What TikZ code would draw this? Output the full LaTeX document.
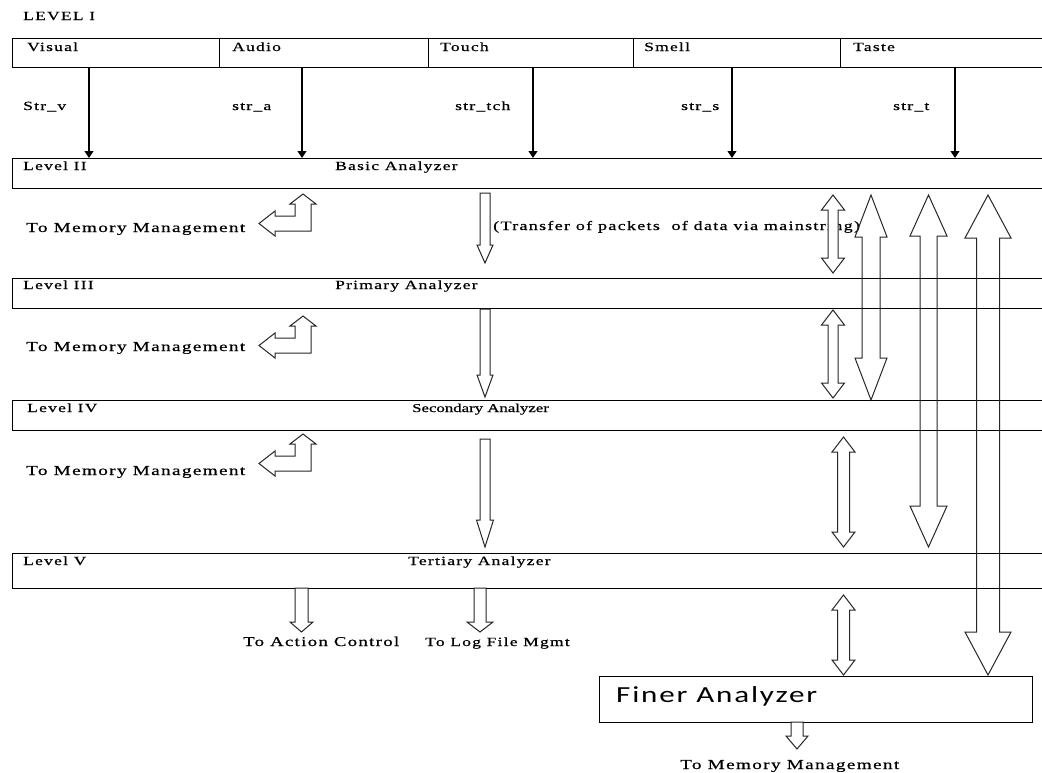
\documentclass[tikz,border=0pt]{standalone}
\usepackage{fontspec}
\setmainfont{Liberation Serif}[FakeStretch=1.4,LetterSpace=10,FakeBold=0.6]
\newfontfamily\calib{Carlito}[FakeStretch=1.35,LetterSpace=8]
\usetikzlibrary{arrows.meta}
\tikzset{
  box/.style={draw, line width=1.1pt, rectangle, inner sep=0pt, anchor=north west},
  txt/.style={anchor=base west, inner sep=0pt, font=\fontsize{12.5}{14}\selectfont},
  memtxt/.style={txt, font=\fontsize{13.7}{15}\selectfont},
  sense/.style={line width=1.1pt, -{Triangle[length=7pt,width=9pt]}},
  blk/.style={draw=black!85, line width=1pt, fill=white},
  blko/.style={draw=black!85, line width=1pt},
}
% down block arrow: [style]{cx}{ytop}{ytip}{shaft half}{head half}{head length}
\newcommand\DnArr[7][blk]{%
  \draw[#1] ({#2-#5},#3) -- ({#2+#5},#3) -- ({#2+#5},{#4-#7}) -- ({#2+#6},{#4-#7})
    -- (#2,#4) -- ({#2-#6},{#4-#7}) -- ({#2-#5},{#4-#7}) -- cycle;}
% vertical double block arrow: [style]{cx}{ytop}{ybot}{shaft half}{head half}{head length}
\newcommand\DblArr[7][blk]{%
  \draw[#1] (#2,#3) -- ({#2+#6},{#3+#7}) -- ({#2+#5},{#3+#7}) -- ({#2+#5},{#4-#7})
    -- ({#2+#6},{#4-#7}) -- (#2,#4) -- ({#2-#6},{#4-#7}) -- ({#2-#5},{#4-#7})
    -- ({#2-#5},{#3+#7}) -- ({#2-#6},{#3+#7}) -- cycle;}
% left-up bent arrow, shifted down by #1
\newcommand\BentArr[1]{%
  \begin{scope}[shift={(0,#1)}]
  \draw[blk] (303,194) -- (316,204) -- (311,204) -- (311,231) -- (275,231) -- (275,236)
    -- (259,223.5) -- (275,211) -- (275,216) -- (295,216) -- (295,204) -- (290,204) -- cycle;
  \end{scope}}
\begin{document}
\begin{tikzpicture}[x=1pt,y=-1pt]
\useasboundingbox[fill=white] (0,0) rectangle (1042,772);

% ---- Level I
\node[txt] (lvl1) at (23,20) {LEVEL I};
\node[box, minimum width=207pt, minimum height=29pt] (vis) at (12,38) {};
\node[box, minimum width=209pt, minimum height=29pt] (aud) at (219,38) {};
\node[box, minimum width=205pt, minimum height=29pt] (tch) at (428,38) {};
\node[box, minimum width=207pt, minimum height=29pt] (sml) at (633,38) {};
\node[box, minimum width=212pt, minimum height=29pt] (tst) at (840,38) {};
\node[txt] (tvis) at (27,51) {Visual};
\node[txt] (taud) at (232,51) {Audio};
\node[txt] (ttch) at (440,51) {Touch};
\node[txt] (tsml) at (644,51) {Smell};
\node[txt] (ttst) at (853,51) {Taste};

% ---- levels
\node[box, minimum width=1040pt, minimum height=30pt] (l2) at (12,158) {};
\node[box, minimum width=1040pt, minimum height=30pt] (l3) at (12,278) {};
\node[box, minimum width=1040pt, minimum height=30pt] (l4) at (12,400) {};
\node[box, minimum width=1040pt, minimum height=35pt] (l5) at (12,553) {};
\node[box, minimum width=433pt, minimum height=46pt] (fin) at (599,676) {};

\node[txt] (tl2) at (23,170) {Level II};
\node[txt] (tb2) at (335,170) {Basic Analyzer};
\node[txt] (tl3) at (23,289) {Level III};
\node[txt] (tb3) at (335,289) {Primary Analyzer};
\node[txt] (tl4) at (27,412) {Level IV};
\node[txt, font=\fontsize{12}{14}\selectfont\addfontfeature{LetterSpace=0}] (tb4) at (412,412) {Secondary Analyzer};
\node[txt] (tl5) at (23,565) {Level V};
\node[txt] (tb5) at (408,565) {Tertiary Analyzer};
\node[anchor=base west, inner sep=0pt, font=\calib\fontsize{23}{26}\selectfont] (tfin) at (616,702) {Finer Analyzer};

% ---- stream labels and arrows
\node[txt] (sv) at (23,110) {Str\_v};
\node[txt] (sa) at (232,110) {str\_a};
\node[txt] (st) at (455,110) {str\_tch};
\node[txt] (ss) at (681,110) {str\_s};
\node[txt] (stt) at (893,110) {str\_t};
\coordinate (xv) at (89,0);
\coordinate (xa) at (302,0);
\coordinate (xt) at (533,0);
\coordinate (xs) at (732,0);
\coordinate (xtt) at (955,0);
\draw[sense] (vis.south -| xv) -- (l2.north -| xv);
\draw[sense] (aud.south -| xa) -- (l2.north -| xa);
\draw[sense] (tch.south -| xt) -- (l2.north -| xt);
\draw[sense] (sml.south -| xs) -- (l2.north -| xs);
\draw[sense] (tst.south -| xtt) -- (l2.north -| xtt);

% ---- memory management
\node[memtxt] (m1) at (26,232) {To Memory Management};
\node[memtxt] (m2) at (26,351) {To Memory Management};
\node[memtxt] (m3) at (26,475) {To Memory Management};
\BentArr{0}
\BentArr{122}
\BentArr{240}

% ---- transfer text
\node[txt, font=\fontsize{12.9}{14}\selectfont] (tr) at (493,230) {(Transfer of packets\ \ of data via mainstring)};

% ---- transfer arrows
\DnArr{485}{193}{263}{5}{8}{18}
\DnArr{485}{309}{397}{5}{8}{22}
\DnArr{485}{439}{547}{5}{8.5}{27}

% ---- outputs of level V
\DnArr{301.5}{588}{632}{6.5}{11.5}{10}
\DnArr{480}{588}{632}{6}{13}{10}
\node[txt, font=\fontsize{13.4}{15}\selectfont] (ac) at (243,646) {To Action Control};
\node[txt] (lf) at (425,646) {To Log File Mgmt};

% ---- small double arrows
\DblArr{833}{195}{273}{5}{11.5}{15}
\DblArr{833}{310}{398}{5}{11.5}{15}
\DblArr{843.5}{437}{547}{6}{11.5}{15}
\DblArr{843.5}{595}{675}{6}{11.5}{15}

% ---- big double arrows
\DblArr[blko]{871}{195}{400}{9}{16}{42}
\DblArr[blko]{928.5}{195}{547}{8.5}{18.5}{41}
\DblArr[blko]{988}{195}{675}{11.5}{23}{43}

% ---- finer analyzer output
\DnArr{797}{722}{749}{6}{11}{13}
\node[memtxt] (fm) at (680,769) {To Memory Management};
\end{tikzpicture}
\end{document}
